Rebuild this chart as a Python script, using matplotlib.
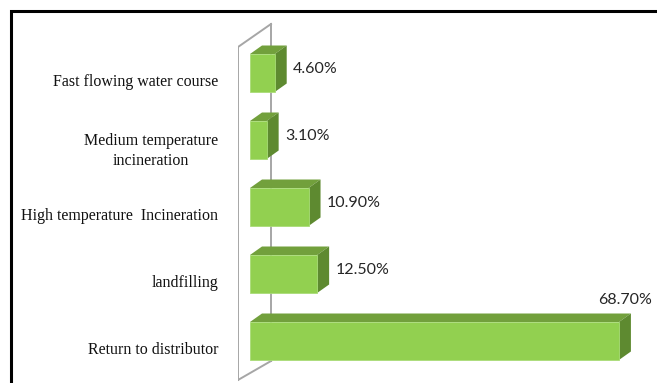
import matplotlib
matplotlib.use("Agg")
import matplotlib.pyplot as plt
from matplotlib.patches import Polygon, Rectangle
from matplotlib.transforms import ScaledTranslation
import numpy as np

# data, bottom to top
categories = ["Return to distributor", "landfilling", "High temperature  Incineration",
              "Medium temperature\nincineration", "Fast flowing water course"]
values = [68.7, 12.5, 10.9, 3.1, 4.6]
value_labels = ["68.70%", "12.50%", "10.90%", "3.10%", "4.60%"]

FRONT = "#92d050"
TOP = "#72a03c"
SIDE = "#5e8a30"

W, H = 657, 383
fig = plt.figure(figsize=(W / 100, H / 100), dpi=100)
ax = fig.add_axes([238 / W, 0, (W - 238) / W, 1])

px_x = 5.37   # pixels per percent
px_y = 67.0   # pixels per category
ax.set_xlim(-(250 - 238) / px_x, (W - 250) / px_x)
ax.set_ylim(-(H - 341) / px_y, 341 / px_y)

dx = 12 / px_x      # 3d depth
dy = 8.5 / px_y
bh = 38 / px_y

y = np.arange(len(values))

# wall
wall_front = -(250 - 238) / px_x
wall_back = (271 - 250) / px_x
wall = dict(color="#a6a6a6", lw=1.4, zorder=1)
ax.plot([wall_back, wall_back], [-(361 - 341) / px_y, (341 - 24) / px_y], **wall)
ax.plot([wall_front, wall_front], [-(380 - 341) / px_y, (341 - 47) / px_y], **wall)
ax.plot([wall_front, wall_back], [(341 - 47) / px_y, (341 - 24) / px_y], **wall)
ax.plot([wall_front, wall_back], [-(380 - 341) / px_y, -(361 - 341) / px_y], **wall)

# bars
ax.barh(y, values, height=bh, color=FRONT, edgecolor="#a9dc78", lw=0.6, zorder=3)
for yi, v in zip(y, values):
    top = yi + bh / 2
    bot = yi - bh / 2
    ax.add_patch(Polygon([(0, top), (v, top), (v + dx, top + dy), (dx, top + dy)],
                         closed=True, fc=TOP, ec="none", zorder=2))
    ax.add_patch(Polygon([(v, bot), (v, top), (v + dx, top + dy), (v + dx, bot + dy)],
                         closed=True, fc=SIDE, ec="none", zorder=2))

# value labels
vmax = max(values)
lab_kw = dict(fontsize=11.5, family="Lato", color="#262626")
for yi, v, lab in zip(y, values, value_labels):
    if v == vmax:
        ax.text(v + dx / 2, yi + bh / 2 + dy, lab, ha="center", va="bottom",
                transform=ax.transData + ScaledTranslation(0, 0.06, fig.dpi_scale_trans),
                **lab_kw)
    else:
        ax.text(v + dx + 1.2, yi + dy / 2, lab, ha="left", va="center", **lab_kw)

# category labels
ax.set_yticks(y)
ax.set_yticklabels(categories, family="Liberation Serif", fontsize=11.5, color="#111111",
                   linespacing=1.35)
ax.tick_params(axis="y", length=0, pad=14.4)
for lbl in ax.get_yticklabels():
    lbl.set_multialignment("center")
    lbl.set_transform(lbl.get_transform() + ScaledTranslation(0, -0.07, fig.dpi_scale_trans))
ax.set_xticks([])
for s in ax.spines.values():
    s.set_visible(False)
ax.patch.set_alpha(0)

# black frame around the figure, cut at right and bottom
fig.add_artist(Rectangle((11 / W, -0.1), 1.2, (H - 11) / H + 0.1, transform=fig.transFigure,
                         fill=False, ec="black", lw=2.2))

fig.savefig("out.png", dpi=100)
